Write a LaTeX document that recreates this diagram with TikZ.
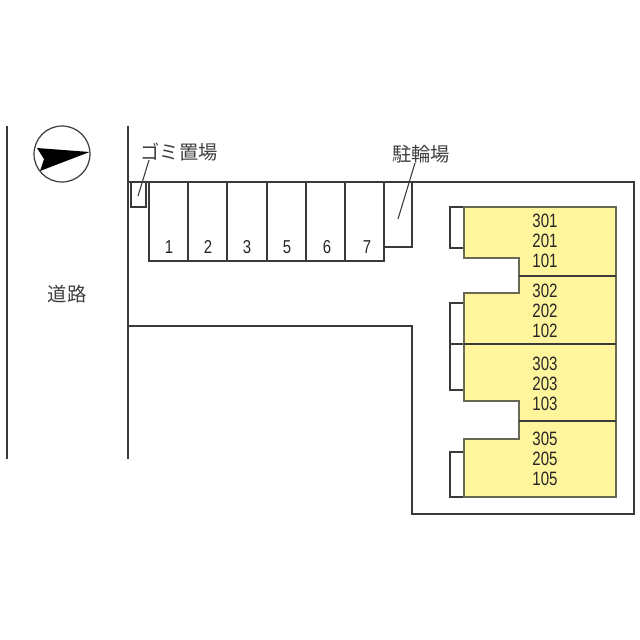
\documentclass[tikz,border=0pt]{standalone}
\usepackage{fontspec}
\setmainfont{Liberation Sans}
\newfontfamily\jpfont{Noto Sans CJK JP}
\definecolor{bldg}{HTML}{FFF59D}
\definecolor{ink}{HTML}{3A3A3A}
\tikzset{
  wall/.style={draw=ink,line width=1.2pt,line join=miter},
  thin wall/.style={draw=ink,line width=0.95pt},
  bldgline/.style={draw=ink!75!bldg,line width=1.1pt},
  lead/.style={draw=ink,line width=0.8pt},
  lbl/.style={inner sep=0pt,text=black!75,font=\jpfont\fontsize{14.5}{16}\selectfont},
  num/.style={inner sep=0pt,text=black!85,font=\fontsize{14}{16}\selectfont,xscale=0.8},
  unit/.style={inner sep=0pt,text=black!85,align=center,xscale=0.78,font=\fontsize{14.5}{16}\selectfont}
}
\begin{document}
\begin{tikzpicture}[x=0.75pt,y=-0.75pt]
\useasboundingbox (0,0) rectangle (640,640);
\fill[white] (0,0) rectangle (640,640);
% road lines
\draw[wall] (7,126) -- (7,459);
\draw[wall] (128,126) -- (128,459);
% site outline
\draw[wall] (129,182) -- (634,182) -- (634,514) -- (412,514) -- (412,326) -- (129,326);
% north mark
\draw[ink,line width=0.9pt] (62,154) circle (28);
\fill[black] (89.5,152) -- (37,148) -- (44,159) -- (40,171) -- cycle;
% garbage
\draw[thin wall] (131,182) rectangle (146,207);
% parking
\draw[thin wall] (149,182) -- (149,261) -- (384,261) -- (384,182);
\foreach \x in {188,227,267,306,345} \draw[thin wall] (\x,182) -- (\x,261);
% bicycle
\draw[thin wall] (384,247) -- (412,247) -- (412,182);
% porches
\draw[thin wall] (464,207) -- (450,207) -- (450,248) -- (464,248);
\draw[thin wall] (464,303) -- (450,303) -- (450,390) -- (464,390);
\draw[thin wall] (450,344) -- (464,344);
\draw[thin wall] (464,452) -- (450,452) -- (450,497) -- (464,497);
% building
\draw[bldgline,fill=bldg] (464,207) -- (616,207) -- (616,497) -- (464,497) -- (464,439) -- (519,439) -- (519,401) -- (464,401) -- (464,293) -- (519,293) -- (519,258) -- (464,258) -- cycle;
\draw[ink,line width=1pt] (519,276) -- (616,276);
\draw[ink,line width=1pt] (464,344) -- (616,344);
\draw[ink,line width=1pt] (519,421) -- (616,421);
% labels
\node[lbl] (road) at (67,294) {道路};
\node[lbl] (gomi) at (179,152) {ゴミ置場};
\node[lbl] (bike) at (421,154) {駐輪場};
\coordinate (gomiend) at (138,196);
\coordinate (gomistart) at (149,160);
\coordinate (bikeend) at (398,219);
\coordinate (bikestart) at (415,163);
\draw[lead] (gomistart) -- (gomiend);
\draw[lead] (bikestart) -- (bikeend);
\node[num] (p1) at (169,247) {1};
\node[num] (p2) at (208,247) {2};
\node[num] (p3) at (247,247) {3};
\node[num] (p5) at (287,247) {5};
\node[num] (p6) at (327,247) {6};
\node[num] (p7) at (367,247) {7};
\foreach \n/\y/\a/\b/\c in {u1/221/301/201/101,u2/291/302/202/102,u3/364/303/203/103,u4/439/305/205/105}{
  \node[unit] (\n a) at (545,\y) {\a};
  \node[unit] (\n b) at (545,\y+20) {\b};
  \node[unit] (\n c) at (545,\y+39.5) {\c};
}
\end{tikzpicture}
\end{document}
